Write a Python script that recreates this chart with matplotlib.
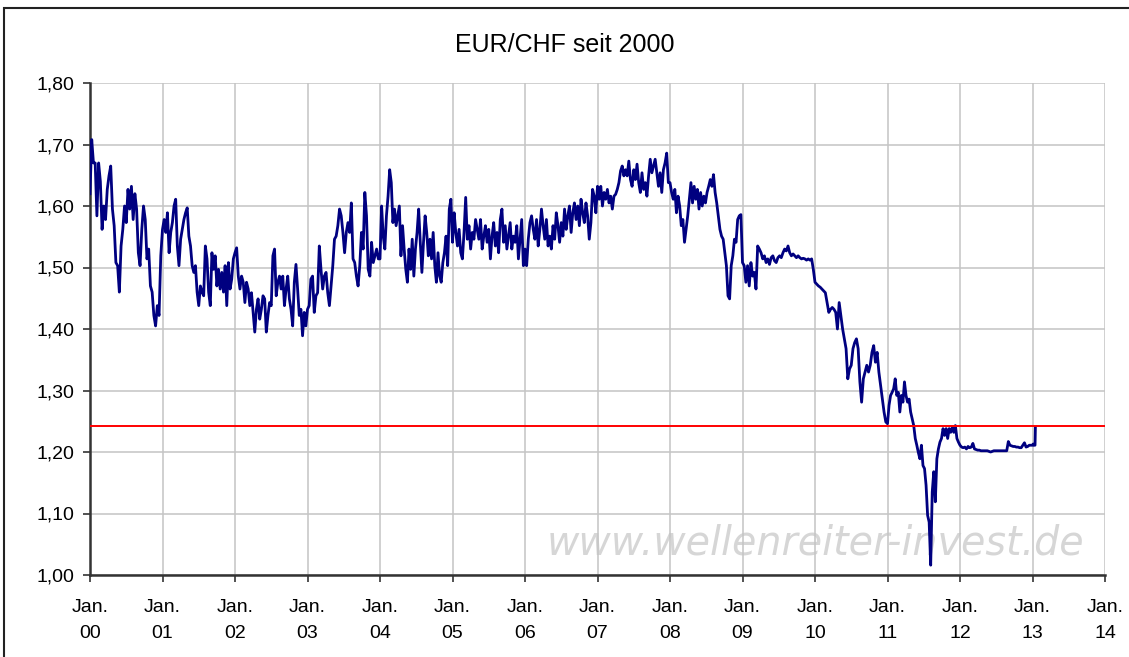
import numpy as np
import matplotlib
matplotlib.use('Agg')
import matplotlib.pyplot as plt
from matplotlib.patches import Rectangle

# EUR/CHF, roughly weekly values per year
y2000 = [1.62, 1.708, 1.67, 1.67, 1.584, 1.67, 1.64, 1.562, 1.60, 1.578, 1.627, 1.649, 1.665, 1.595,
         1.568, 1.508, 1.503, 1.46, 1.535, 1.562, 1.60, 1.573, 1.627, 1.595, 1.632, 1.578, 1.62, 1.595,
         1.524, 1.503, 1.562, 1.60, 1.578, 1.514, 1.53, 1.47, 1.46, 1.422, 1.405, 1.438, 1.422, 1.519]
y2001 = [1.562, 1.578, 1.557, 1.589, 1.524, 1.557, 1.573, 1.60, 1.611, 1.535, 1.503, 1.546, 1.562, 1.578,
         1.589, 1.597, 1.551, 1.535, 1.503, 1.492, 1.503, 1.46, 1.438, 1.47, 1.46, 1.454, 1.535, 1.514,
         1.46, 1.438, 1.524, 1.497, 1.519, 1.47, 1.497, 1.465, 1.492, 1.46, 1.503, 1.438, 1.508, 1.465,
         1.481, 1.514]
y2002 = [1.524, 1.532, 1.486, 1.465, 1.486, 1.476, 1.443, 1.476, 1.465, 1.438, 1.459, 1.427, 1.395, 1.432,
         1.449, 1.416, 1.432, 1.454, 1.449, 1.395, 1.422, 1.443, 1.438, 1.519, 1.53, 1.454, 1.476, 1.486,
         1.465, 1.486, 1.438, 1.465, 1.486, 1.449, 1.432, 1.405, 1.476, 1.505, 1.465, 1.422, 1.432, 1.389,
         1.427, 1.405]
y2003 = [1.432, 1.438, 1.481, 1.486, 1.427, 1.454, 1.459, 1.535, 1.497, 1.465, 1.486, 1.492, 1.459, 1.438,
         1.470, 1.503, 1.546, 1.551, 1.568, 1.595, 1.584, 1.557, 1.524, 1.557, 1.573, 1.557, 1.605, 1.514,
         1.508, 1.486, 1.47, 1.503, 1.557, 1.530, 1.622, 1.584, 1.497, 1.486, 1.541, 1.508, 1.519, 1.53,
         1.514]
y2004 = [1.514, 1.60, 1.551, 1.530, 1.584, 1.616, 1.659, 1.638, 1.573, 1.595, 1.568, 1.584, 1.60, 1.519,
         1.568, 1.530, 1.497, 1.476, 1.530, 1.497, 1.546, 1.486, 1.530, 1.557, 1.595, 1.541, 1.492, 1.541,
         1.584, 1.557, 1.519, 1.546, 1.514, 1.557, 1.503, 1.476, 1.524, 1.486, 1.476, 1.508, 1.524, 1.551,
         1.503, 1.595, 1.611]
y2005 = [1.541, 1.589, 1.557, 1.535, 1.562, 1.524, 1.514, 1.557, 1.614, 1.546, 1.568, 1.530, 1.557, 1.546,
         1.578, 1.562, 1.546, 1.578, 1.530, 1.551, 1.568, 1.541, 1.562, 1.514, 1.551, 1.573, 1.535, 1.557,
         1.524, 1.578, 1.595, 1.541, 1.568, 1.530, 1.551, 1.573, 1.530, 1.551, 1.541, 1.568, 1.514, 1.546,
         1.578, 1.503]
y2006 = [1.530, 1.503, 1.546, 1.573, 1.584, 1.562, 1.546, 1.578, 1.535, 1.562, 1.595, 1.568, 1.546, 1.578,
         1.535, 1.551, 1.530, 1.568, 1.546, 1.589, 1.568, 1.541, 1.573, 1.551, 1.595, 1.562, 1.584, 1.60,
         1.557, 1.589, 1.605, 1.578, 1.60, 1.568, 1.611, 1.589, 1.573, 1.605, 1.584, 1.546, 1.573, 1.627,
         1.616, 1.589]
y2007 = [1.632, 1.611, 1.632, 1.60, 1.622, 1.611, 1.627, 1.605, 1.616, 1.595, 1.616, 1.619, 1.627, 1.638,
         1.657, 1.665, 1.649, 1.659, 1.649, 1.673, 1.643, 1.632, 1.659, 1.643, 1.668, 1.638, 1.622, 1.654,
         1.627, 1.638, 1.616, 1.649, 1.676, 1.654, 1.665, 1.676, 1.654, 1.632, 1.654, 1.622, 1.659, 1.670,
         1.686, 1.638]
y2008 = [1.638, 1.622, 1.611, 1.627, 1.589, 1.616, 1.60, 1.568, 1.578, 1.541, 1.562, 1.584, 1.611, 1.638,
         1.605, 1.632, 1.611, 1.627, 1.595, 1.622, 1.60, 1.616, 1.605, 1.622, 1.632, 1.643, 1.632, 1.651,
         1.622, 1.605, 1.584, 1.562, 1.551, 1.546, 1.524, 1.503, 1.454, 1.449, 1.503, 1.519, 1.546, 1.541,
         1.578, 1.584, 1.586]
y2009 = [1.508, 1.503, 1.476, 1.503, 1.470, 1.508, 1.486, 1.492, 1.465, 1.535, 1.530, 1.524, 1.514, 1.519,
         1.508, 1.514, 1.505, 1.516, 1.519, 1.511, 1.508, 1.516, 1.519, 1.516, 1.524, 1.530, 1.527, 1.535,
         1.524, 1.519, 1.522, 1.519, 1.516, 1.519, 1.516, 1.514, 1.515, 1.514, 1.512, 1.514, 1.512, 1.514,
         1.497]
y2010 = [1.476, 1.473, 1.470, 1.468, 1.465, 1.462, 1.459, 1.443, 1.427, 1.432, 1.435, 1.432, 1.427, 1.40,
         1.443, 1.422, 1.40, 1.384, 1.368, 1.319, 1.335, 1.341, 1.368, 1.378, 1.384, 1.368, 1.314, 1.281,
         1.319, 1.330, 1.341, 1.330, 1.341, 1.362, 1.373, 1.346, 1.362, 1.330, 1.308, 1.286, 1.265, 1.249]
y2011 = [1.246, 1.276, 1.292, 1.297, 1.303, 1.319, 1.292, 1.297, 1.265, 1.292, 1.281, 1.314, 1.292, 1.281,
         1.286, 1.265, 1.254, 1.243, 1.222, 1.211, 1.199, 1.189, 1.211, 1.178, 1.173, 1.146, 1.097, 1.086,
         1.016, 1.135, 1.168, 1.119, 1.189, 1.205, 1.216, 1.222, 1.238, 1.227, 1.238, 1.222, 1.238, 1.232,
         1.24, 1.232, 1.243, 1.222, 1.216]
y2012 = [1.211, 1.208, 1.207, 1.208, 1.205, 1.209, 1.207, 1.208, 1.214, 1.205, 1.204, 1.203, 1.203, 1.202,
         1.202, 1.202, 1.202, 1.202, 1.201, 1.200, 1.201, 1.202, 1.202, 1.202, 1.202, 1.202, 1.202, 1.202,
         1.202, 1.202, 1.217, 1.211, 1.210, 1.209, 1.209, 1.208, 1.208, 1.207, 1.207, 1.211, 1.215, 1.208,
         1.209, 1.211, 1.211]
dates_2013 = [2013.0, 2013.01, 2013.02, 2013.035, 2013.04]
y2013 = [1.211, 1.213, 1.211, 1.211, 1.24]

floor_rate = 1.2423  # red horizontal line
years = list(range(2000, 2015))
tick_labels = ['Jan.\n%02d' % (y % 100) for y in years]

yearly = [y2000, y2001, y2002, y2003, y2004, y2005, y2006, y2007, y2008, y2009, y2010, y2011, y2012]
dates = []
values = []
for i, vals in enumerate(yearly):
    n = len(vals)
    dates.extend(2000 + i + np.arange(n) / n)
    values.extend(vals)
dates.extend(dates_2013)
values.extend(y2013)

plt.rcParams['font.family'] = ['Liberation Sans', 'DejaVu Sans']

fig = plt.figure(figsize=(11.29, 6.57), dpi=100)
ax = fig.add_axes([90 / 1129, 1 - 575 / 657, 1015 / 1129, 492 / 657])

ax.plot(dates, values, color='#000080', lw=2.0, zorder=3)
ax.axhline(floor_rate, color='#ff0000', lw=1.4, zorder=4)

ax.set_xlim(2000, 2014)
ax.set_ylim(1.0, 1.8)
ax.set_xticks(years)
ax.set_xticklabels(tick_labels, linespacing=1.7)
yt = np.arange(1.0, 1.81, 0.1)
ax.set_yticks(yt)
ax.set_yticklabels([('%.2f' % v).replace('.', ',') for v in yt])
ax.tick_params(axis='both', labelsize=14, length=5, width=1.2, color='#333333', direction='out')
ax.tick_params(axis='y', pad=6)
ax.tick_params(axis='x', pad=12)
ax.grid(True, color='#c4c4c4', lw=1.1, zorder=0)
for s in ['top', 'right']:
    ax.spines[s].set_visible(False)
for s in ['left', 'bottom']:
    ax.spines[s].set_color('#333333')
    ax.spines[s].set_linewidth(1.8)

fig.text(0.5, 1 - 45 / 657, 'EUR/CHF seit 2000', ha='center', va='center', fontsize=18)
ax.text(0.715, 0.065, 'www.wellenreiter-invest.de', transform=ax.transAxes, ha='center', va='center',
        fontsize=28.5, style='italic', family='DejaVu Sans', color='#d6d6d6', zorder=1)

# outer chart frame (only top/left visible in the crop)
fig.patches.append(Rectangle((4 / 1129, -0.05), 1.1, 1 - 8 / 657 + 0.05, transform=fig.transFigure,
                             fill=False, ec='#222222', lw=1.5))

fig.savefig('out.png', dpi=100)
